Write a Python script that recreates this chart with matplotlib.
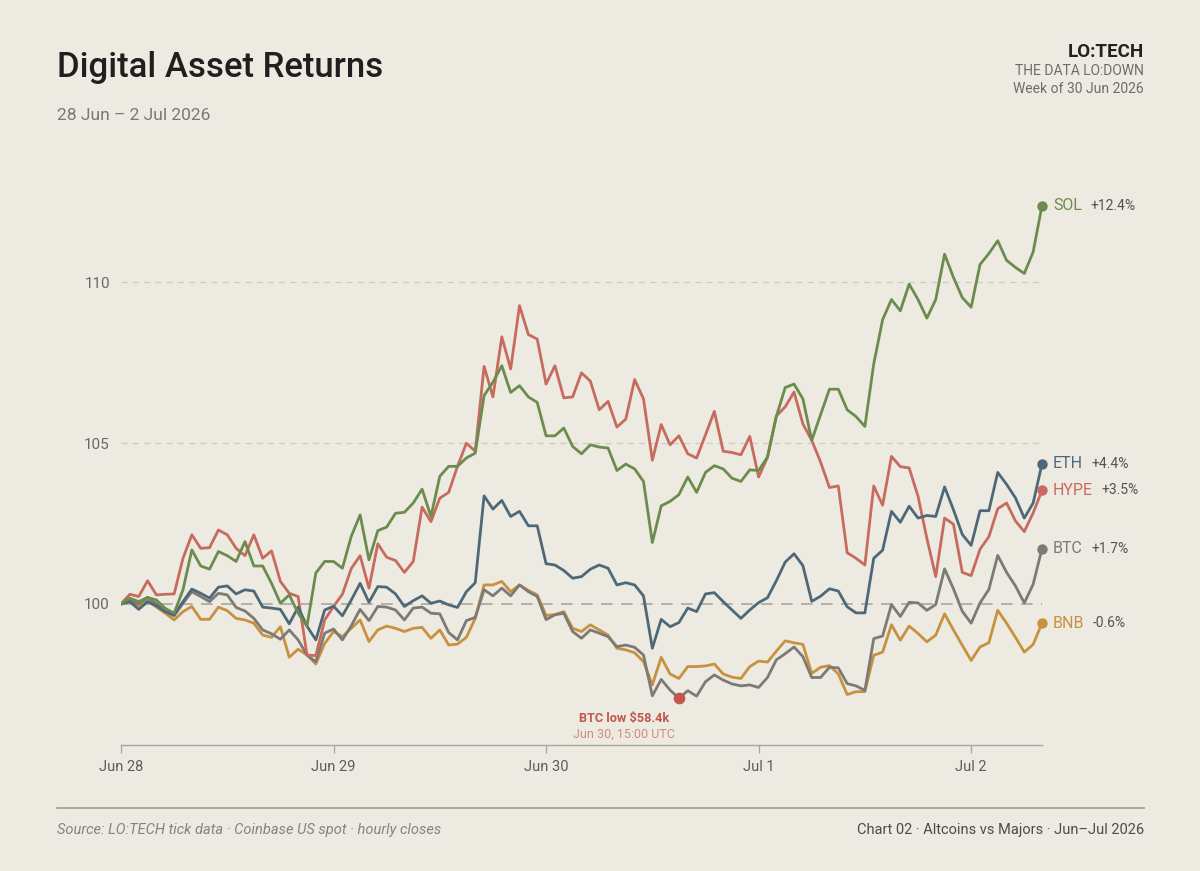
import numpy as np
import matplotlib.pyplot as plt

plt.rcParams['font.family'] = ['Roboto', 'DejaVu Sans']

# hourly closes, rebased to 100 at Jun 28 00:00 UTC (hour 0 .. 104)
sol = [100.0, 100.18, 100.07, 100.2, 100.12, 99.86, 99.71, 100.44, 101.68, 101.18,
       101.08, 101.63, 101.5, 101.32, 101.94, 101.18, 101.18, 100.64, 100.02, 100.28,
       99.71, 99.31, 100.96, 101.32, 101.32, 101.11, 102.1, 102.77, 101.37, 102.28,
       102.39, 102.82, 102.85, 103.14, 103.57, 102.72, 103.97, 104.28, 104.28, 104.54,
       104.69, 106.48, 106.9, 107.41, 106.58, 106.79, 106.44, 106.27, 105.23, 105.23,
       105.47, 104.9, 104.67, 104.95, 104.88, 104.85, 104.15, 104.35, 104.2, 103.81,
       101.91, 103.05, 103.19, 103.4, 103.95, 103.47, 104.09, 104.3, 104.2, 103.91,
       103.81, 104.17, 104.15, 104.57, 105.83, 106.73, 106.84, 106.38, 105.09, 105.89,
       106.68, 106.68, 106.04, 105.83, 105.52, 107.47, 108.84, 109.47, 109.12, 109.95,
       109.47, 108.89, 109.47, 110.88, 110.16, 109.53, 109.23, 110.56, 110.9, 111.3,
       110.69, 110.47, 110.28, 110.95, 112.39]
hype = [100.0, 100.3, 100.23, 100.72, 100.28, 100.3, 100.31, 101.42, 102.15, 101.73,
        101.75, 102.3, 102.15, 101.73, 101.5, 102.15, 101.42, 101.65, 100.7, 100.33,
        100.23, 98.41, 98.39, 99.5, 99.92, 100.3, 101.1, 101.5, 100.49, 101.87,
        101.45, 101.35, 100.98, 101.32, 103.01, 102.56, 103.29, 103.47, 104.28, 105.0,
        104.75, 107.39, 106.44, 108.31, 107.31, 109.28, 108.38, 108.24, 106.84, 107.41,
        106.41, 106.44, 107.19, 106.93, 106.04, 106.3, 105.5, 105.75, 106.98, 106.38,
        104.47, 105.58, 104.95, 105.23, 104.67, 104.54, 105.26, 105.99, 104.75, 104.71,
        104.64, 105.21, 103.95, 104.56, 105.85, 106.13, 106.59, 105.6, 105.09, 104.41,
        103.62, 103.67, 101.59, 101.42, 101.21, 103.67, 103.07, 104.59, 104.27, 104.23,
        103.35, 102.04, 100.85, 102.67, 102.48, 100.98, 100.88, 101.7, 102.09, 102.96,
        103.14, 102.58, 102.25, 102.83, 103.53]
eth = [100.0, 100.07, 99.83, 100.07, 99.94, 99.76, 99.66, 100.07, 100.46, 100.33,
       100.18, 100.52, 100.56, 100.31, 100.44, 100.4, 99.9, 99.87, 99.83, 99.38,
       99.9, 99.31, 98.88, 99.81, 99.93, 99.63, 100.12, 100.64, 100.05, 100.54,
       100.52, 100.31, 99.92, 100.1, 100.25, 100.02, 100.09, 99.97, 99.89, 100.38,
       100.66, 103.36, 102.95, 103.22, 102.72, 102.88, 102.43, 102.43, 101.25, 101.21,
       101.04, 100.8, 100.85, 101.08, 101.21, 101.11, 100.59, 100.66, 100.59, 100.25,
       98.62, 99.52, 99.29, 99.42, 99.87, 99.76, 100.31, 100.35, 100.07, 99.81,
       99.55, 99.81, 100.04, 100.19, 100.72, 101.3, 101.56, 101.19, 100.08, 100.24,
       100.47, 100.4, 99.91, 99.72, 99.72, 101.42, 101.67, 102.88, 102.54, 103.04,
       102.67, 102.75, 102.72, 103.64, 102.93, 102.16, 101.82, 102.9, 102.9, 104.09,
       103.72, 103.3, 102.67, 103.14, 104.36]
btc = [100.0, 100.1, 100.0, 100.2, 100.0, 99.76, 99.63, 100.02, 100.38, 100.23,
       100.07, 100.33, 100.28, 99.89, 99.78, 99.55, 99.19, 99.07, 98.9, 99.19,
       98.88, 98.41, 98.2, 99.09, 99.22, 98.88, 99.32, 99.83, 99.48, 99.92,
       99.9, 99.81, 99.5, 99.87, 99.9, 99.71, 99.69, 99.11, 98.88, 99.48,
       99.58, 100.44, 100.25, 100.49, 100.25, 100.59, 100.38, 100.23, 99.51, 99.66,
       99.71, 99.14, 98.93, 99.19, 99.09, 98.98, 98.67, 98.72, 98.65, 98.41,
       97.14, 97.65, 97.32, 97.06, 97.3, 97.13, 97.58, 97.79, 97.63, 97.51,
       97.45, 97.48, 97.4, 97.71, 98.26, 98.45, 98.66, 98.36, 97.71, 97.71,
       98.03, 98.01, 97.52, 97.45, 97.31, 98.92, 99.0, 99.98, 99.61, 100.05,
       100.03, 99.8, 99.98, 101.09, 100.47, 99.77, 99.4, 100.03, 100.45, 101.51,
       100.98, 100.56, 100.03, 100.61, 101.72]
bnb = [100.0, 100.07, 99.94, 100.1, 99.9, 99.71, 99.5, 99.76, 99.92, 99.52,
       99.52, 99.9, 99.79, 99.55, 99.5, 99.4, 99.03, 98.96, 99.29, 98.34,
       98.59, 98.41, 98.13, 98.77, 99.14, 98.98, 99.24, 99.5, 98.83, 99.19,
       99.31, 99.24, 99.14, 99.24, 99.27, 98.93, 99.19, 98.72, 98.75, 98.96,
       99.55, 100.59, 100.59, 100.7, 100.38, 100.59, 100.42, 100.28, 99.64, 99.67,
       99.76, 99.24, 99.14, 99.35, 99.19, 99.03, 98.62, 98.57, 98.48, 98.2,
       97.48, 98.34, 97.82, 97.68, 98.05, 98.05, 98.07, 98.13, 97.82, 97.72,
       97.68, 98.05, 98.22, 98.19, 98.53, 98.85, 98.79, 98.74, 97.84, 98.03,
       98.08, 97.82, 97.18, 97.27, 97.27, 98.4, 98.5, 99.35, 98.87, 99.31,
       99.08, 98.82, 99.03, 99.69, 99.19, 98.71, 98.24, 98.66, 98.79, 99.8,
       99.4, 98.96, 98.5, 98.74, 99.4]

names = ['SOL', 'ETH', 'HYPE', 'BTC', 'BNB']
series = [sol, eth, hype, btc, bnb]
colors = ['#6B8C4C', '#4E6878', '#C66B5E', '#7B7A74', '#C8913F']
pct_labels = ['+12.4%', '+4.4%', '+3.5%', '+1.7%', '-0.6%']

day_ticks = [0, 24, 48, 72, 96]
day_labels = ['Jun 28', 'Jun 29', 'Jun 30', 'Jul 1', 'Jul 2']
y_ticks = [100, 105, 110]

btc_low_hour = 63
btc_low_text = 'BTC low \\$58.4k'
btc_low_sub = 'Jun 30, 15:00 UTC'

bg = '#EDEAE2'
fig = plt.figure(figsize=(12, 8.71), dpi=100, facecolor=bg)
ax = fig.add_axes([121 / 1200, 1 - 745 / 871, (1042 - 121) / 1200, (745 - 170) / 871])
ax.set_facecolor(bg)

hours = np.arange(len(sol))
ax.set_xlim(0, hours[-1])
ax.set_ylim(95.61, 113.5)

for y in [105, 110]:
    ax.axhline(y, color='#CFCBC2', lw=0.9, dashes=(5, 4), zorder=1)
ax.axhline(100, color='#A9A69F', lw=1.2, dashes=(7, 5), zorder=1)

for vals, c in zip(series[::-1], colors[::-1]):
    ax.plot(hours, vals, color=c, lw=2.0, zorder=3)

for name, vals, c, pct in zip(names, series, colors, pct_labels):
    ax.scatter([hours[-1]], [vals[-1]], s=42, color=c, zorder=5, clip_on=False)
    t = ax.annotate(name, (hours[-1], vals[-1]), xytext=(8, 0), textcoords='offset points',
                    va='center', ha='left', fontsize=11.5, color=c, annotation_clip=False)
    ax.annotate(pct, xy=(1, 0.5), xycoords=t, xytext=(6, 0), textcoords='offset points',
                va='center', ha='left', fontsize=10, color='#55534E', annotation_clip=False)

# BTC low marker
ax.scatter([btc_low_hour], [btc[btc_low_hour]], s=55, color='#C0594B', zorder=6)
ax.text(56.8, btc[btc_low_hour] - 0.42, btc_low_text, ha='center', va='top',
        fontsize=9.2, fontweight='bold', color='#C0594B')
ax.text(56.8, btc[btc_low_hour] - 0.9, btc_low_sub, ha='center', va='top',
        fontsize=9, color='#D08C80')

ax.set_xticks(day_ticks)
ax.set_xticklabels(day_labels)
ax.set_yticks(y_ticks)
ax.set_yticklabels([str(v) for v in y_ticks])
ax.tick_params(axis='x', length=6, width=0.9, color='#A8A59E', labelsize=10.5,
               labelcolor='#5F5D58', pad=5)
ax.tick_params(axis='y', length=0, labelsize=11, labelcolor='#6A6862', pad=8)
for side in ['top', 'right', 'left']:
    ax.spines[side].set_visible(False)
ax.spines['bottom'].set_color('#A8A59E')
ax.spines['bottom'].set_linewidth(1.0)

# header
fig.text(57 / 1200, 1 - 67 / 871, 'Digital Asset Returns', fontsize=25, fontweight='medium',
         color='#1F1F1F', va='center', ha='left')
fig.text(57 / 1200, 1 - 115 / 871, '28 Jun \u2013 2 Jul 2026', fontsize=12.5,
         color='#7A7873', va='center', ha='left')
fig.text(1144 / 1200, 1 - 52 / 871, 'LO:TECH', fontsize=13.5, fontweight='bold',
         color='#222222', va='center', ha='right')
fig.text(1144 / 1200, 1 - 71 / 871, 'THE DATA LO:DOWN', fontsize=10, color='#6E6C67',
         va='center', ha='right')
fig.text(1144 / 1200, 1 - 89 / 871, 'Week of 30 Jun 2026', fontsize=10, color='#6E6C67',
         va='center', ha='right')

# footer
fig.add_artist(plt.Line2D([57 / 1200, 1144 / 1200], [1 - 808 / 871, 1 - 808 / 871],
                          color='#A5A29B', lw=1.3))
fig.text(57 / 1200, 1 - 830 / 871,
         'Source: LO:TECH tick data \u00b7 Coinbase US spot \u00b7 hourly closes',
         fontsize=10.5, fontstyle='italic', color='#85837D', va='center', ha='left')
fig.text(1144 / 1200, 1 - 830 / 871,
         'Chart 02 \u00b7 Altcoins vs Majors \u00b7 Jun\u2013Jul 2026',
         fontsize=10.5, color='#4E4C48', va='center', ha='right')

fig.savefig('out.png', dpi=100, facecolor=bg)
